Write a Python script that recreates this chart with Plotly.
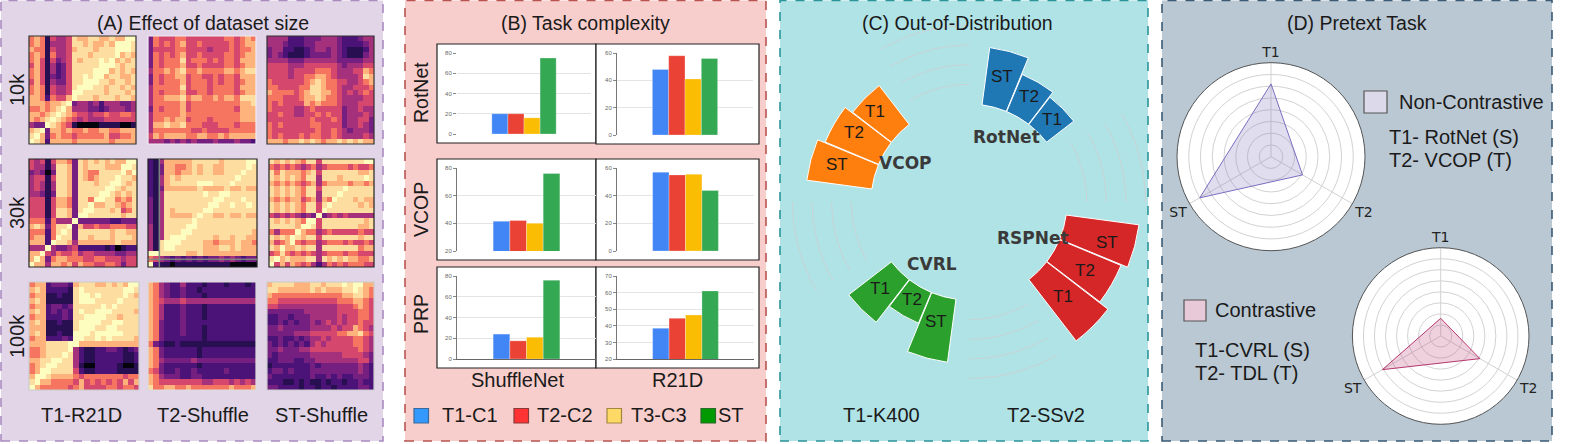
import numpy as np
import plotly.graph_objects as go

W, H = 1578, 444

# ---------- Panel A: similarity matrices (levels 0-9) ----------
A_10K_R21D = ["67615445877887787799","67614445887877879998","76615445788878889998","67616445888788889787",
"67515345878889897878","57514235888889998788","67514235888899978787","67513235889899788778",
"57514335889998878878","67615445899988788787","67615445998888788878","77626557988878887887",
"77767789344342444334","66767897444332344434","77678987655455655665","76789876545444555555",
"43398765100001111001","78937767667667766777","89736766566666755667","98727777677777767777"]
A_10K_T2 = ["36555665555555665676","36565675565555565677","35555665555455565667","36565675565555665677",
"36566685666565665777","36566675565555665677","46676786676666776788","36566775665565665777",
"36566675666565665677","46666685666566665777","46566675566566665677","46677786776676776888",
"46666675666666666778","36566675666666665777","46666676666666666777","46676775666566666777",
"47787786665556665666","46666666556555566666","57677776677667677777","44434343433343334332"]
A_10K_ST = ["44442223334443222344","44432223344443222234","34422112344343211124","34321112333343211134",
"44443334444443333344","55554445555554344455","55554555566654445576","55554556677654444587",
"65555556787665544567","66555566887665445556","76666567887765454565","66655567787665444455",
"65655557676665444555","65555445655555344544","55655445565655344454","55555555655565344553",
"65655555665555344543","65555555565565434443","65655565665565444454","77767787876778787877"]
A_30K_R21D = ["54515776387878787799","54414887387888777998","34303887387668888979","45515887387678889887",
"45414887388878899878","45414887388888998788","44313887388889987878","55515776388699886768",
"55515776388977887678","55515887389988878568","55515887399888888788","66626444933333322333",
"78736889375565566655","66626898388888878877","67726988388788878887","77729887477777778777",
"44494334522222120122","77954655645544443344","79736776665566555455","97747767576655665355"]
A_30K_T2 = ["21477777888887888899","21377667878877888898","21377677878877888988","21478788888888889888",
"21478888899988898888","21377777787777877877","21488888889889988888","31488888888899888988",
"31488888888998898898","31487888889988888888","31487777898877877877","31488888988888888888",
"41488889988888888888","41488899888888888887","41489998888878878877","41899988887767778776",
"41899888887778878777","99888887787777777777","65432323232334343233","92110111111111100000"]
A_30K_ST = ["87878768858888888899","65656545645666656556","86877767858888888778","87878768848887888898",
"76767656746777767767","87878768858888988888","87878768848889888888","76767756747698887877",
"87878768858988888787","87878768859888888888","54545434393454544444","87878769958888888878",
"88888799858888888778","64666976645655555655","87879878858888888788","75679656645666565565",
"87977878848888888677","56865656545666566555","89787778848787877667","95757656424656566655"]
A_100K_R21D = ["67723332788877878799","78722221898888888998","67711211899898888987","78711111899988889888",
"67723323888889898888","78723232898899988887","67722232889999887888","78711211899998899888",
"77711111899988998888","78711211999899999888","67722232998898988887","77788889977777777777",
"66788889421122332123","66788898421122222112","77889988421122222112","67899888410022221001",
"67998888521122221111","79987777656666666566","89776666575656565757","97666665675555665665"]
A_100K_T2 = ["76432242221222122212","76432232212222222222","76432232221222222222","76544454444444444444",
"76422232221222222222","76422232221222222222","76422232221222222222","76322232222222222222",
"76322232221222222222","76322232221222222222","76322222221222222222","63211211111111111111",
"76322222212222222222","76322222212222222222","76433333433333333333","76322222212222222222",
"65322322322222322222","76433322332222222222","76555555554455545454","86677667666666676667"]
A_100K_ST = ["78888777887888989977","88777777878777889876","76666666666666778876","66555555555556667765",
"55444444444445556765","33333334444445555665","22332333444445455665","22323233434545455655",
"33433333444454557654","33333444555556677865","22322323445455556654","32323232454555556654",
"33433344555555555654","32333333444444555543","22333223344444444553","12222222323333333432",
"23323222333333333432","32222222322323223332","22211212112122122322","33222212212212222332"]
LEVELS = [0.02, 0.15, 0.24, 0.34, 0.46, 0.58, 0.71, 0.84, 0.93, 1.0]

# ---------- Panel B: bars ----------
B_SERIES = ["T1-C1", "T2-C2", "T3-C3", "ST"]
B_ROTNET_SHUFFLE = [20, 20, 16, 75]
B_ROTNET_R21D = [48, 58, 41, 56]
B_VCOP_SHUFFLE = [41.5, 42, 40, 76]
B_VCOP_R21D = [57, 55, 55.5, 43.7]
B_PRP_SHUFFLE = [24, 17.5, 21, 76]
B_PRP_R21D = [38.5, 44.5, 46.5, 61]
B_TICKS = [[0,20,40,60,80],[0,20,40,60],[20,40,60,80],[0,20,40,60],[0,20,40,60,80],[20,30,40,50,60,70]]

# ---------- Panel C: circular bars ----------
C_BARS = ["ST", "T2", "T1"]
C_ROTNET = [59, 41, 35]
C_RSPNET = [79, 68, 75]
C_CVRL = [65, 34, 55]
C_VCOP = [67, 59, 50]
C_ROTNET_SLOTS = [1, 2, 3]
C_RSPNET_SLOTS = [7, 8, 9]
C_CVRL_SLOTS = [13, 14, 15]
C_VCOP_SLOTS = [19, 20, 21]
C_RINGS = [20, 40, 60, 80]

# ---------- Panel D: radars ----------
D_AXES = ["T1", "T2", "ST"]
D_NON_CONTRASTIVE = [62, 31, 70]
D_CONTRASTIVE = [16, 41, 61]
D_RING_TICKS = [10, 20, 30, 40, 50, 60, 70, 80]


def px(x): return x / W
def py(y): return 1 - y / H


fig = go.Figure()
shapes, annos = [], []


def rect(x0, y0, x1, y1, fill="rgba(0,0,0,0)", line="rgba(0,0,0,0)", width=1, dash="solid", layer="below"):
    shapes.append(dict(type="rect", xref="paper", yref="paper", x0=px(x0), x1=px(x1), y0=py(y1), y1=py(y0),
                       fillcolor=fill, line=dict(color=line, width=width, dash=dash), layer=layer))


def text(x, y, s, size=19.5, color="#1a1a1a", angle=0, anchor="center", family="Liberation Sans", bold=False):
    annos.append(dict(xref="paper", yref="paper", x=px(x), y=py(y), text=f"<b>{s}</b>" if bold else s, showarrow=False,
                      xanchor=anchor, yanchor="middle", textangle=angle,
                      font=dict(size=size, color=color, family=family)))


# panels
rect(1, 0.5, 383, 441, "#e1d5e7", "#a98bc0", 1.6, "dash")
rect(405, 0.5, 766, 441, "#f8cecc", "#b85450", 1.6, "dash")
rect(780, 0.5, 1148, 441, "#b0e3e6", "#2a9499", 1.6, "dash")
rect(1162, 0.5, 1552, 441, "#bac8d3", "#3a5a75", 1.6, "dash")

layout = {}
ax = 0


def new_axes(x0, y0, x1, y1):
    global ax
    ax += 1
    s = "" if ax == 1 else str(ax)
    layout["xaxis" + s] = dict(domain=[px(x0), px(x1)], anchor="y" + s, automargin=False)
    layout["yaxis" + s] = dict(domain=[py(y1), py(y0)], anchor="x" + s, automargin=False)
    return "x" + s, "y" + s, "xaxis" + s, "yaxis" + s


# heatmaps
HEATS = [
    (A_10K_R21D, 29, 36, 136, 144, "#333333"), (A_10K_T2, 148, 36, 256, 144, "#f0ecf2"), (A_10K_ST, 267, 36, 374, 144, "#333333"),
    (A_30K_R21D, 29, 159, 137, 267, "#222222"), (A_30K_T2, 148, 159, 257, 267, "#222222"), (A_30K_ST, 269, 159, 374, 267, "#222222"),
    (A_100K_R21D, 29, 282, 139, 390, "#cccccc"), (A_100K_T2, 148, 282, 256, 390, "#dddddd"), (A_100K_ST, 267, 282, 374, 390, "#cccccc"),
]
for rows, x0, y0, x1, y1, edge in HEATS:
    xa, ya, xk, yk = new_axes(x0, y0, x1, y1)
    z = [[LEVELS[int(c)] for c in r] for r in rows]
    fig.add_trace(go.Heatmap(z=z, xaxis=xa, yaxis=ya, colorscale="Magma", zmin=0, zmax=1, showscale=False,
                             zsmooth=False, hoverinfo="skip"))
    n = len(z)
    layout[xk].update(range=[-0.5, n - 0.5], visible=False)
    layout[yk].update(range=[n - 0.5, -0.5], visible=False)
    rect(x0, y0, x1, y1, line=edge, width=1.2, layer="above")
# thin grey lines inside the 30k T2-Shuffle map
rect(159, 159, 159.6, 267, "#7d8a80", "#7d8a80", 0.8, layer="above")
rect(148, 259, 257, 259.6, "#7d8a80", "#7d8a80", 0.8, layer="above")

# bars
B_COLORS = ["#4285f4", "#ea4335", "#fbbc04", "#34a853"]
BARS = [
    (B_ROTNET_SHUFFLE, 457, 53, 591, 134, 0, 437, 44, 596, 143, False, False),
    (B_ROTNET_R21D, 617, 53, 753, 135, 1, 596, 44, 759, 144, True, False),
    (B_VCOP_SHUFFLE, 457, 168, 596, 251, 2, 437, 159, 596, 260, True, False),
    (B_VCOP_R21D, 617, 168, 754, 251, 3, 596, 159, 759, 260, True, False),
    (B_PRP_SHUFFLE, 457, 276, 596, 359, 4, 437, 267, 596, 368, True, True),
    (B_PRP_R21D, 617, 276, 754, 359, 5, 596, 267, 759, 368, True, True),
]
for vals, x0, y0, x1, y1, ti, bx0, by0, bx1, by1, yline, xline in BARS:
    rect(bx0, by0, bx1, by1, "#ffffff", "#222222", 1.2)
    xa, ya, xk, yk = new_axes(x0, y0, x1, y1)
    for name, v, c in zip(B_SERIES, vals, B_COLORS):
        fig.add_trace(go.Bar(x=[""], y=[v], name=name, marker=dict(color=c, line=dict(color="rgba(255,255,255,0.35)", width=0.8)),
                             xaxis=xa, yaxis=ya, showlegend=False, hoverinfo="skip"))
    ticks = B_TICKS[ti]
    layout[xk].update(showticklabels=False, ticks="", showgrid=False, zeroline=False, showline=xline, linecolor="#666666", linewidth=1)
    layout[yk].update(range=[ticks[0], ticks[-1]], tickvals=ticks, tickfont=dict(size=6, color="#666666", family="Liberation Sans"),
                      ticks="outside", ticklen=3, tickcolor="#888888", gridcolor="#e4e4e4", gridwidth=1, zeroline=False,
                      showline=yline, linecolor="#777777", linewidth=1)

# swatches panel B
for (x0, c, e), lab, tx in zip([(414, "#3399ff", "#3a6a9a"), (514, "#ff3333", "#8a3a3a"), (607, "#ffd966", "#a08840"), (701, "#009900", "#2a6a2a")],
                               B_SERIES, [470, 565, 659, 731]):
    rect(x0, 408.5, x0 + 14.5, 423, c, e, 1.2)
    text(tx, 415, lab, 20)

# panel C polar
for name, vals, slots, color in [("RotNet", C_ROTNET, C_ROTNET_SLOTS, "#1f77b4"), ("RSPNet", C_RSPNET[::-1], C_RSPNET_SLOTS, "#d62728"),
                                 ("CVRL", C_CVRL, C_CVRL_SLOTS, "#2ca02c"), ("VCOP", C_VCOP, C_VCOP_SLOTS, "#ff7f0e")]:
    fig.add_trace(go.Barpolar(r=vals, theta=[s * 15 for s in slots], width=[14.7] * 3, base=0, name=name, subplot="polar",
                              marker=dict(color=color, line=dict(color="#ffffff", width=1)), showlegend=False, hoverinfo="skip"))
for start in [60, 150, 240, 330]:
    for ring in C_RINGS:
        th = np.linspace(start, start + 30, 25)
        fig.add_trace(go.Scatterpolar(r=[ring] * len(th), theta=th, mode="lines", subplot="polar", showlegend=False, hoverinfo="skip",
                                      line=dict(color="#c8d2d4", width=1)))
cx, cy, R = 969, 202, 196
layout["polar"] = dict(domain=dict(x=[px(cx - R), px(cx + R)], y=[py(cy + R), py(cy - R)]), bgcolor="rgba(0,0,0,0)",
                       radialaxis=dict(range=[-100, 100], visible=False),
                       angularaxis=dict(visible=False, rotation=90, direction="clockwise", thetaunit="degrees"))

# panel D radars
for pn, vals, (cx, cy, R), line, fill, in [("polar2", D_NON_CONTRASTIVE, (1271, 156.7, 94), "#7a6fc0", "rgba(130,120,190,0.25)"),
                                           ("polar3", D_CONTRASTIVE, (1440.7, 336, 88.3), "#b5386f", "rgba(190,70,120,0.25)")]:
    fig.add_trace(go.Scatterpolar(r=vals + vals[:1], theta=D_AXES + D_AXES[:1], mode="lines", fill="toself", fillcolor=fill,
                                  line=dict(color=line, width=1), subplot=pn, showlegend=False, hoverinfo="skip"))
    layout[pn] = dict(domain=dict(x=[px(cx - R), px(cx + R)], y=[py(cy + R), py(cy - R)]), bgcolor="#ffffff",
                      radialaxis=dict(range=[0, 80], tickvals=D_RING_TICKS, showticklabels=False, ticks="", showline=False,
                                      gridcolor="#d2d2d2", gridwidth=1, angle=90),
                      angularaxis=dict(type="category", categoryorder="array", categoryarray=D_AXES, rotation=90, direction="clockwise",
                                       gridcolor="#d2d2d2", linecolor="#555555", linewidth=1, ticks="",
                                       tickfont=dict(size=14, color="#222222", family="DejaVu Sans")))

rect(1364, 91, 1387, 113, "#dcdaea", "#555555", 1.2)
rect(1184, 300, 1206, 321, "#e8c9d7", "#555555", 1.2)

# text
text(203, 23, "(A) Effect of dataset size")
text(17, 90, "10k", 20, angle=-90); text(17, 213, "30k", 20, angle=-90); text(17, 336, "100k", 20, angle=-90)
text(81, 415, "T1-R21D", 20); text(203, 415, "T2-Shuffle", 20); text(321, 415, "ST-Shuffle", 20)
text(585, 23, "(B) Task complexity")
text(421, 93, "RotNet", angle=-90); text(421, 210, "VCOP", angle=-90); text(421, 314, "PRP", angle=-90)
text(517, 380, "ShuffleNet", 20); text(677, 380, "R21D", 20)
text(957, 23, "(C) Out-of-Distribution")
for x, y, s in [(1002, 76, "ST"), (1029, 96, "T2"), (1052, 119, "T1"), (875, 112, "T1"), (854, 133, "T2"), (837, 164, "ST"),
                (1107, 242, "ST"), (1085, 270, "T2"), (1063, 296, "T1"), (880, 288, "T1"), (912, 299, "T2"), (936, 321, "ST")]:
    text(x, y, s, 17)
for x, y, s in [(1006, 137, "RotNet"), (905, 163, "VCOP"), (1033, 238, "RSPNet"), (932, 264, "CVRL")]:
    text(x, y, s, 17, color="#3a3a3a", family="DejaVu Sans", bold=True)
text(881, 415, "T1-K400", 20); text(1046, 415, "T2-SSv2", 20)
text(1357, 23, "(D) Pretext Task")
text(1471, 102, "Non-Contrastive", 20)
text(1387, 137, "T1- RotNet (S)", 20, anchor="left"); text(1387, 160, "T2- VCOP (T)", 20, anchor="left")
text(1265, 310, "Contrastive", 20)
text(1193, 350, "T1-CVRL (S)", 20, anchor="left"); text(1193, 373, "T2- TDL (T)", 20, anchor="left")

layout.update(width=W, height=H, margin=dict(l=0, r=0, t=0, b=0, pad=0), paper_bgcolor="#ffffff", plot_bgcolor="rgba(0,0,0,0)",
              shapes=shapes, annotations=annos, barmode="group", bargap=0.52, bargroupgap=0, showlegend=False)
fig.update_layout(**layout)
fig.write_html("out.html", config={"displayModeBar": False}, post_script="document.body.style.margin='0';document.body.style.overflow='hidden';")
